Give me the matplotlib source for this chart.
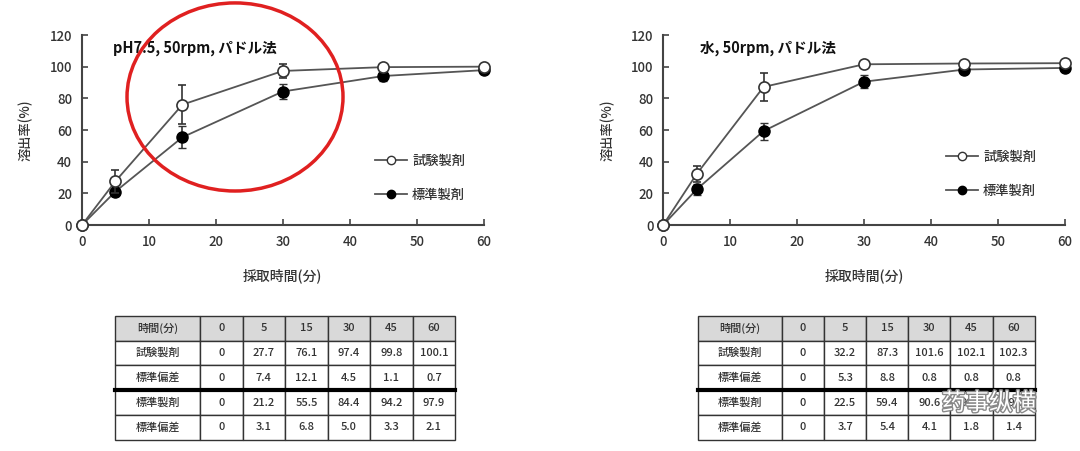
import matplotlib
matplotlib.use("Agg")
import matplotlib.pyplot as plt
import matplotlib.patheffects as pe
from matplotlib.patches import Ellipse
from matplotlib.lines import Line2D

plt.rcParams['font.family'] = ['Noto Sans CJK JP', 'DejaVu Sans']

times = [0, 5, 15, 30, 45, 60]

# pH7.5
ph_test = [0, 27.7, 76.1, 97.4, 99.8, 100.1]
ph_test_sd = [0, 7.4, 12.1, 4.5, 1.1, 0.7]
ph_ref = [0, 21.2, 55.5, 84.4, 94.2, 97.9]
ph_ref_sd = [0, 3.1, 6.8, 5.0, 3.3, 2.1]

# water
w_test = [0, 32.2, 87.3, 101.6, 102.1, 102.3]
w_test_sd = [0, 5.3, 8.8, 0.8, 0.8, 0.8]
w_ref = [0, 22.5, 59.4, 90.6, 98.3, 99.3]
w_ref_sd = [0, 3.7, 5.4, 4.1, 1.8, 1.4]

row_names = ["試験製剤", "標準偏差", "標準製剤", "標準偏差"]

line_col = "#555555"
txt_col = "#333333"

fig = plt.figure(figsize=(10.8, 4.51), dpi=100)


def draw_chart(pos, title, test, test_sd, ref, ref_sd, title_x, leg_anchor):
    ax = fig.add_axes(pos)
    ax.errorbar(times, ref, yerr=ref_sd, color=line_col, lw=1.3, ecolor="#333333",
                elinewidth=1.2, capsize=3, marker="o", ms=8, mfc="black", mec="black",
                clip_on=False, zorder=3)
    ax.errorbar(times, test, yerr=test_sd, color=line_col, lw=1.3, ecolor="#333333",
                elinewidth=1.2, capsize=3, marker="o", ms=8, mfc="white", mec="#333333",
                mew=1.2, clip_on=False, zorder=4)
    ax.set_xlim(0, 60)
    ax.set_ylim(0, 120)
    ax.set_xticks(range(0, 61, 10))
    ax.set_yticks(range(0, 121, 20))
    for s in ["top", "right"]:
        ax.spines[s].set_visible(False)
    for s in ["left", "bottom"]:
        ax.spines[s].set_color("#444444")
        ax.spines[s].set_linewidth(1.5)
    ax.tick_params(direction="in", length=4, width=1.2, color="#444444",
                   labelsize=9.5, labelcolor=txt_col, pad=7)
    for lab in ax.get_xticklabels() + ax.get_yticklabels():
        lab.set_fontweight("medium")
    ax.set_xlabel("採取時間(分)", fontsize=10, color=txt_col, labelpad=14, fontweight="medium")
    ax.set_ylabel("溶出率(%)", fontsize=9.5, color=txt_col, labelpad=12, fontweight="medium")
    ax.text(title_x, 112, title, fontsize=10.5, fontweight="bold", color="#111111",
            ha="left", va="center")
    handles = [
        Line2D([], [], color=line_col, lw=1.3, marker="o", ms=6, mfc="white", mec="#333333"),
        Line2D([], [], color=line_col, lw=1.3, marker="o", ms=6, mfc="black", mec="black"),
    ]
    leg = ax.legend(handles, ["試験製剤", "標準製剤"], loc="center left", bbox_to_anchor=leg_anchor,
                    frameon=False, fontsize=9.5, labelspacing=1.5, handlelength=2.4,
                    handletextpad=0.4, labelcolor=txt_col)
    for t in leg.get_texts():
        t.set_fontweight("medium")
    return ax


def draw_table(pos, test, test_sd, ref, ref_sd):
    ax = fig.add_axes(pos)
    ax.axis("off")
    cells = [["時間(分)"] + [str(t) for t in times]]
    for name, vals in zip(row_names, [test, test_sd, ref, ref_sd]):
        cells.append([name] + ["0" if v == 0 else f"{v:.1f}" for v in vals])
    col_w = [0.25] + [0.125] * 6
    tab = ax.table(cellText=cells, colWidths=col_w, bbox=[0, 0, 1, 1], cellLoc="center")
    tab.auto_set_font_size(False)
    for (r, c), cell in tab.get_celld().items():
        cell.set_edgecolor("#333333")
        cell.set_linewidth(1.0)
        cell.get_text().set_fontsize(8)
        cell.get_text().set_color("#333333")
        cell.get_text().set_fontweight("medium")
        if r == 0:
            cell.set_facecolor("#d9d9d9")
    ax.plot([0, 1], [0.4, 0.4], color="black", lw=3, transform=ax.transAxes, clip_on=False)
    return ax


draw_chart([0.0759, 0.501, 0.372, 0.421], "pH7.5, 50rpm, パドル法",
           ph_test, ph_test_sd, ph_ref, ph_ref_sd, 4.6, (0.7, 0.25))
draw_chart([0.614, 0.501, 0.372, 0.421], "水, 50rpm, パドル法",
           w_test, w_test_sd, w_ref, w_ref_sd, 5.5, (0.675, 0.27))

draw_table([0.1065, 0.025, 0.315, 0.275], ph_test, ph_test_sd, ph_ref, ph_ref_sd)
draw_table([0.646, 0.025, 0.312, 0.275], w_test, w_test_sd, w_ref, w_ref_sd)

fig.add_artist(Ellipse((0.2176, 0.785), 0.2, 0.417, transform=fig.transFigure,
                       fill=False, edgecolor="#e02020", lw=2.5))

fig.text(0.872, 0.105, "药事纵横", fontsize=17, color="white", ha="left", va="center",
         path_effects=[pe.withStroke(linewidth=2, foreground="#888888")], zorder=10)

fig.savefig("out.png", dpi=100)
